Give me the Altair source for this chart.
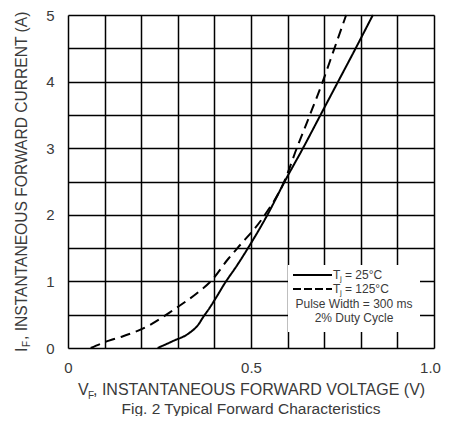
import altair as alt
import pandas as pd

# 25 °C curve (solid)
solid_v = [0.245, 0.285, 0.33, 0.356, 0.37, 0.383, 0.405, 0.427, 0.463, 0.494, 0.545, 0.592, 0.642, 0.690, 0.738, 0.786, 0.833]
solid_i = [0.0, 0.10, 0.22, 0.35, 0.47, 0.57, 0.76, 0.96, 1.25, 1.52, 2.0, 2.5, 3.0, 3.5, 4.0, 4.5, 5.0]
# 125 °C curve (dashed)
dash_v = [0.062, 0.112, 0.147, 0.22, 0.29, 0.354, 0.39, 0.438, 0.463, 0.538, 0.591, 0.625, 0.661, 0.696, 0.728, 0.760]
dash_i = [0.0, 0.11, 0.17, 0.335, 0.58, 0.83, 1.0, 1.34, 1.5, 2.0, 2.5, 3.0, 3.5, 4.0, 4.5, 5.0]

x_grid = [0, 0.1, 0.2, 0.3, 0.4, 0.5, 0.6, 0.7, 0.8, 0.9, 1.0]
y_grid = [0, 0.5, 1, 1.5, 2, 2.5, 3, 3.5, 4, 4.5, 5]

df = pd.DataFrame(
    [{"v": v, "i": i, "s": "25"} for v, i in zip(solid_v, solid_i)]
    + [{"v": v, "i": i, "s": "125"} for v, i in zip(dash_v, dash_i)]
)

FONT = "Liberation Sans"
TXT = "#3a3a3a"

lines = alt.Chart(df).mark_line(color="black", strokeWidth=2, interpolate="monotone").encode(
    x=alt.X("v:Q", scale=alt.Scale(domain=[0, 1], nice=False),
            axis=alt.Axis(values=x_grid, title=None, ticks=False, domain=False,
                          grid=True, gridColor="black", gridWidth=1.5, gridOpacity=1,
                          labelExpr="datum.value == 0 ? '0' : (datum.value == 0.5 ? '0.5' : (datum.value == 1 ? '1.0' : ''))",
                          labelOffset={"expr": "datum.value == 1 ? -4 : 0"},
                          labelFont=FONT, labelFontSize=15, labelColor=TXT, labelPadding=12,
                          labelFlush=False)),
    y=alt.Y("i:Q", scale=alt.Scale(domain=[0, 5], nice=False),
            axis=alt.Axis(values=y_grid, title=None, ticks=False, domain=False,
                          grid=True, gridColor="black", gridWidth=1.5, gridOpacity=1,
                          labelExpr="datum.value % 1 == 0 ? format(datum.value, 'd') : ''",
                          labelFont=FONT, labelFontSize=15, labelColor=TXT, labelPadding=14,
                          labelFlush=False)),
    strokeDash=alt.StrokeDash("s:N", scale=alt.Scale(domain=["25", "125"], range=[[1, 0], [10, 6]]), legend=None),
    detail="s:N",
)

one = pd.DataFrame({"a": [0]})

box = alt.Chart(one).mark_rect(fill="white").encode(
    x=alt.value(220), x2=alt.value(352), y=alt.value(250), y2=alt.value(317)
)

sample_solid = alt.Chart(one).mark_rule(color="black", strokeWidth=2).encode(
    x=alt.value(225), x2=alt.value(264), y=alt.value(260)
)
sample_dash = alt.Chart(one).mark_rule(color="black", strokeWidth=2, strokeDash=[8, 3]).encode(
    x=alt.value(225), x2=alt.value(264), y=alt.value(274)
)


def txt(text, x, y, size=12, align="left", baseline="middle", angle=0):
    return alt.Chart(pd.DataFrame({"t": [text]})).mark_text(
        font=FONT, fontSize=size, color=TXT, align=align, baseline=baseline, angle=angle
    ).encode(text="t:N", x=alt.value(x), y=alt.value(y))


texts = [
    txt("T", 265, 260), txt("j", 272, 264, size=8), txt("= 25°C", 277, 260),
    txt("T", 265, 274), txt("j", 272, 278, size=8), txt("= 125°C", 277, 274),
    txt("Pulse Width = 300 ms", 286, 289, size=12, align="center"),
    txt("2% Duty Cycle", 286, 303, size=12, align="center"),
    # x title
    txt("V", 10, 380, size=16, baseline="alphabetic"),
    txt("F", 20, 384, size=10, baseline="alphabetic"),
    txt(", INSTANTANEOUS FORWARD VOLTAGE (V)", 25, 380, size=16, baseline="alphabetic"),
    # caption
    txt("Fig. 2  Typical Forward Characteristics", 183, 399, size=15.5, align="center", baseline="alphabetic"),
    # y title (rotated)
    txt("I", -41, 337, size=15.6, baseline="alphabetic", angle=270),
    txt("F", -38, 332, size=10, baseline="alphabetic", angle=270),
    txt(", INSTANTANEOUS FORWARD CURRENT (A)", -41, 325, size=15.6, baseline="alphabetic", angle=270),
]

chart = alt.layer(lines, box, sample_solid, sample_dash, *texts).properties(
    width=366, height=333,
    autosize=alt.AutoSizeParams(type="none"),
    padding={"left": 60, "top": 7, "right": 7, "bottom": 68},
).configure_view(stroke="black", strokeWidth=2.5).configure(background="white")

chart.save("out.html", embed_options={"renderer": "svg", "actions": False})
